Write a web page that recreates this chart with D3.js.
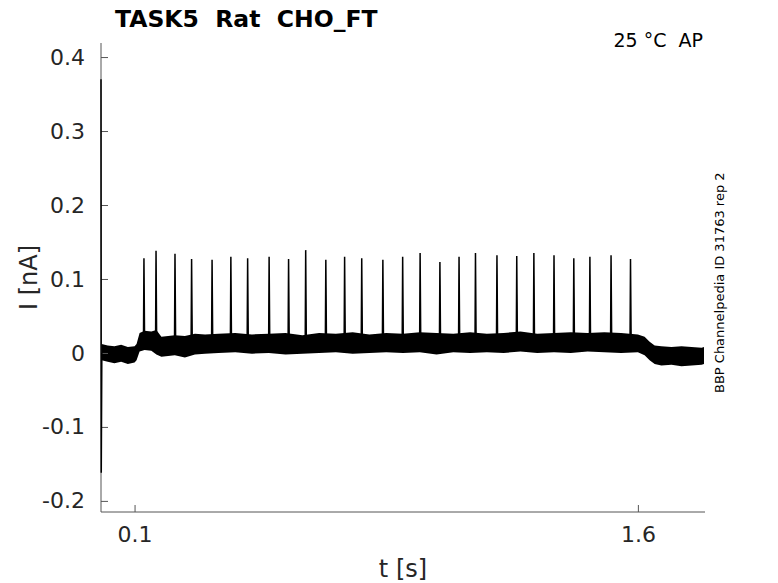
<!DOCTYPE html>
<html>
<head>
<meta charset="utf-8">
<script src="https://cdnjs.cloudflare.com/ajax/libs/d3/7.8.5/d3.min.js"></script>
<style>
  html, body { margin: 0; padding: 0; background: #fff; }
  text { font-family: 'DejaVu Sans', sans-serif; white-space: pre; }
</style>
</head>
<body>
<div id="chart"></div>
<script>
// values
var xTicks = [0.1, 1.6];
var yTicks = [0.4, 0.3, 0.2, 0.1, 0, -0.1, -0.2];

// capacitive transient at stimulus onset
var transientT = [0, 0.0008, 0.0025];
var transientV = [0.37, -0.162, 0.0];

// noise envelope of the baseline trace (time, lower edge, upper edge)
var bandT = [0.002, 0.02, 0.04, 0.06, 0.08, 0.1, 0.106, 0.115, 0.13, 0.15, 0.165, 0.18,
  0.2, 0.22, 0.25, 0.28, 0.31, 0.35, 0.4, 0.45, 0.5, 0.55, 0.6, 0.65, 0.7, 0.75, 0.8,
  0.85, 0.9, 0.95, 1.0, 1.05, 1.1, 1.15, 1.2, 1.25, 1.3, 1.35, 1.4, 1.45, 1.5, 1.55,
  1.6, 1.62, 1.635, 1.65, 1.67, 1.7, 1.73, 1.76, 1.79, 1.797];
var bandLo = [-0.010, -0.012, -0.014, -0.012, -0.015, -0.013, -0.010, 0.002, 0.004, 0.003, -0.002, -0.005,
  -0.004, -0.003, -0.006, -0.002, -0.001, 0.000, 0.001, -0.001, 0.000, -0.002, -0.001, 0.000, 0.001, -0.001, 0.000,
  0.001, 0.000, 0.001, -0.002, 0.001, 0.000, 0.001, 0.000, 0.002, 0.000, 0.001, 0.000, 0.002, 0.001, 0.000,
  0.001, -0.003, -0.010, -0.015, -0.017, -0.016, -0.018, -0.017, -0.016, -0.015];
var bandHi = [0.012, 0.010, 0.009, 0.011, 0.008, 0.009, 0.012, 0.027, 0.030, 0.029, 0.031, 0.022,
  0.023, 0.024, 0.023, 0.026, 0.025, 0.026, 0.027, 0.025, 0.026, 0.027, 0.024, 0.027, 0.026, 0.028, 0.025,
  0.027, 0.026, 0.028, 0.027, 0.026, 0.028, 0.026, 0.027, 0.029, 0.026, 0.027, 0.028, 0.027, 0.028, 0.027,
  0.025, 0.022, 0.015, 0.010, 0.009, 0.008, 0.009, 0.008, 0.007, 0.008];

// action currents: time and peak
var spikeT = [0.128, 0.164, 0.2205, 0.270, 0.331, 0.387, 0.437, 0.501, 0.559, 0.610,
  0.670, 0.726, 0.777, 0.840, 0.899, 0.951, 1.010, 1.067, 1.116, 1.180,
  1.239, 1.290, 1.350, 1.409, 1.457, 1.520, 1.578];
var spikePeak = [0.128, 0.138, 0.134, 0.127, 0.126, 0.130, 0.128, 0.130, 0.127, 0.139,
  0.126, 0.130, 0.128, 0.126, 0.130, 0.135, 0.123, 0.130, 0.135, 0.132,
  0.131, 0.135, 0.132, 0.128, 0.130, 0.132, 0.127];
var spikeBase = 0.008;

var W = 778, H = 583;
var margin = {left: 101, right: 73, top: 43, bottom: 71};

var svg = d3.select('#chart').append('svg')
  .attr('width', W).attr('height', H);

var x = d3.scaleLinear().domain([0, 1.8]).range([margin.left, W - margin.right]);
var y = d3.scaleLinear().domain([-0.215, 0.419]).range([H - margin.bottom, margin.top]);

// matlab-style labels: plain hyphen for negatives
function tickText(d) { return String(d); }

// trace
var band = bandT.map(function (t, i) { return {t: t, lo: bandLo[i], hi: bandHi[i]}; });
svg.append('path')
  .datum(band)
  .attr('d', d3.area()
    .x(function (d) { return x(d.t); })
    .y0(function (d) { return y(d.lo); })
    .y1(function (d) { return y(d.hi); }))
  .attr('fill', '#000');

var spikeLine = d3.line()
  .x(function (d) { return x(d[0]); })
  .y(function (d) { return y(d[1]); });

svg.selectAll('path.spike')
  .data(spikeT.map(function (t, i) { return {t: t, v: spikePeak[i]}; }))
  .enter().append('path')
  .attr('class', 'spike')
  .attr('d', function (d) {
    return spikeLine([[d.t - 0.0015, spikeBase], [d.t, d.v], [d.t + 0.002, spikeBase]]);
  })
  .attr('fill', '#000')
  .attr('stroke', '#000')
  .attr('stroke-width', 1.5);

// axes
var axisColor = '#555';
var labelColor = '#262626';

var yAxis = svg.append('g')
  .attr('transform', 'translate(' + margin.left + ',0)')
  .call(d3.axisRight(y).tickValues(yTicks).tickSize(7).tickFormat(tickText));
yAxis.select('.domain').remove();
yAxis.selectAll('.tick line').attr('stroke', axisColor);
yAxis.selectAll('.tick text')
  .attr('x', -16).attr('text-anchor', 'end')
  .attr('fill', labelColor)
  .style('font-size', '22px');

var xAxis = svg.append('g')
  .attr('transform', 'translate(0,' + (H - margin.bottom) + ')')
  .call(d3.axisTop(x).tickValues(xTicks).tickSize(7).tickFormat(tickText));
xAxis.select('.domain').remove();
xAxis.selectAll('.tick line').attr('stroke', axisColor);
xAxis.selectAll('.tick text')
  .attr('y', 30).attr('dy', 0)
  .attr('fill', labelColor)
  .style('font-size', '22px');

svg.append('line')
  .attr('x1', margin.left).attr('x2', margin.left)
  .attr('y1', margin.top).attr('y2', H - margin.bottom)
  .attr('stroke', axisColor).attr('stroke-width', 1);
svg.append('line')
  .attr('x1', margin.left).attr('x2', W - margin.right)
  .attr('y1', H - margin.bottom).attr('y2', H - margin.bottom)
  .attr('stroke', axisColor).attr('stroke-width', 1);

// onset transient drawn over the axis line
svg.append('path')
  .datum(transientT.map(function (t, i) { return [t, transientV[i]]; }))
  .attr('d', spikeLine)
  .attr('fill', 'none')
  .attr('stroke', '#000')
  .attr('stroke-width', 1.5);

// labels
svg.append('text')
  .attr('x', 115).attr('y', 27)
  .style('font-size', '23.5px').style('font-weight', 'bold')
  .attr('fill', '#000')
  .text('TASK5  Rat  CHO_FT');

svg.append('text')
  .attr('x', 703).attr('y', 47)
  .attr('text-anchor', 'end')
  .style('font-size', '19px')
  .attr('fill', '#000')
  .text('25 °C  AP');

svg.append('text')
  .attr('x', (margin.left + W - margin.right) / 2).attr('y', 577)
  .attr('text-anchor', 'middle')
  .style('font-size', '24px')
  .attr('fill', labelColor)
  .text('t [s]');

svg.append('text')
  .attr('transform', 'translate(37,' + ((margin.top + H - margin.bottom) / 2) + ') rotate(-90)')
  .attr('text-anchor', 'middle')
  .style('font-size', '24px')
  .attr('fill', labelColor)
  .text('I [nA]');

svg.append('text')
  .attr('transform', 'translate(724,393) rotate(-90)')
  .attr('text-anchor', 'start')
  .style('font-size', '13px')
  .attr('fill', '#000')
  .text('BBP Channelpedia ID 31763 rep 2');
</script>
</body>
</html>
